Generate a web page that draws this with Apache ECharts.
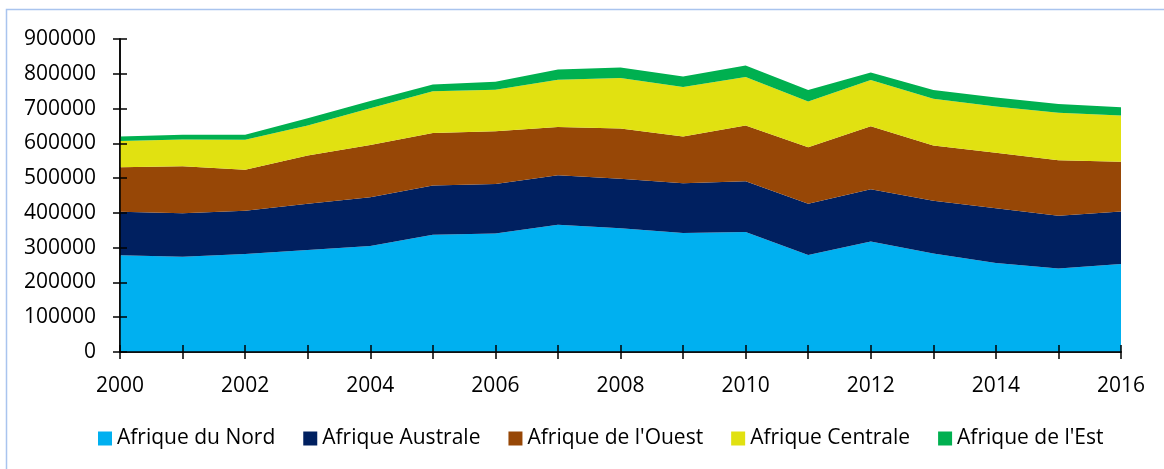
<!DOCTYPE html>
<html>
<head>
<meta charset="utf-8">
<script src="https://cdn.jsdelivr.net/npm/echarts@6/dist/echarts.min.js"></script>
<style>
html,body{margin:0;padding:0;background:#fff;}
#chart{width:1164px;height:469px;}
</style>
</head>
<body>
<div id="chart"></div>
<script>
const years = ['2000','2001','2002','2003','2004','2005','2006','2007','2008','2009','2010','2011','2012','2013','2014','2015','2016'];
const seriesNames = ['Afrique du Nord','Afrique Australe',"Afrique de l'Ouest",'Afrique Centrale',"Afrique de l'Est"];
const nord = [278000, 274000, 282000, 293000, 305000, 337000, 341000, 366000, 356000, 342000, 345000, 279000, 318000, 283000, 256000, 240000, 253000];
const australe = [125000, 125000, 124000, 133000, 140000, 142000, 142000, 142000, 142000, 143000, 146000, 147000, 150000, 152000, 157000, 152000, 151000];
const ouest = [128000, 135000, 118000, 139000, 150000, 151000, 152000, 139000, 145000, 135000, 160000, 163000, 181000, 159000, 160000, 159000, 143000];
const centrale = [76000, 77000, 86000, 86000, 106000, 120000, 119000, 136000, 145000, 142000, 140000, 131000, 133000, 134000, 133000, 137000, 133000];
const est = [13000, 14000, 15000, 21000, 21000, 19000, 23000, 29000, 30000, 30000, 33000, 33000, 22000, 25000, 26000, 25000, 24000];
const colors = ['#00b0f0','#002060','#974706','#e1e111','#00b050'];
const allData = [nord, australe, ouest, centrale, est];

const FONT = '"Open Sans", "Liberation Sans", sans-serif';
const chart = echarts.init(document.getElementById('chart'), null, {renderer:'canvas'});

const axisLineStyle = {color:'#000', width:1.5};
const option = {
  animation:false,
  textStyle:{fontFamily:FONT},
  grid:{left:120, right:43, top:39, bottom:117, containLabel:false},
  graphic:[{
    type:'rect', shape:{x:6.5, y:9.5, width:1300, height:600},
    style:{fill:null, stroke:'#a9c4ee', lineWidth:1.5}, silent:true, z:-1
  }],
  legend:{
    left:93, top:423, itemWidth:14, itemHeight:14, itemGap:28, icon:'rect',
    textStyle:{fontFamily:FONT, fontSize:21, color:'#000'},
    data:seriesNames
  },
  xAxis:[{
    type:'category', data:years, boundaryGap:false,
    axisLine:{lineStyle:axisLineStyle},
    axisTick:{show:true, interval:0, length:7, lineStyle:axisLineStyle},
    axisLabel:{interval:1, color:'#000', fontFamily:FONT, fontSize:21, margin:24},
    splitLine:{show:false}
  },{
    type:'category', data:years, boundaryGap:false, position:'bottom', z:10,
    axisLine:{show:true, lineStyle:axisLineStyle},
    axisTick:{show:true, inside:true, interval:0, length:7, lineStyle:axisLineStyle},
    axisLabel:{show:false}, splitLine:{show:false}
  }],
  yAxis:[{
    type:'value', min:0, max:900000, interval:100000,
    axisLine:{show:true, lineStyle:axisLineStyle},
    axisTick:{show:true, length:7, lineStyle:axisLineStyle},
    axisLabel:{color:'#000', fontFamily:FONT, fontSize:21, margin:24, formatter:v=>String(v)},
    splitLine:{show:false}
  },{
    type:'value', min:0, max:900000, interval:100000, position:'left', z:10,
    axisLine:{show:true, lineStyle:axisLineStyle},
    axisTick:{show:true, inside:true, length:7, lineStyle:axisLineStyle},
    axisLabel:{show:false}, splitLine:{show:false}
  }],
  series: seriesNames.map((n,i)=>({
    name:n, type:'line', stack:'total', data:allData[i],
    xAxisIndex:0, yAxisIndex:0,
    symbol:'none', lineStyle:{width:0}, itemStyle:{color:colors[i]},
    areaStyle:{color:colors[i], opacity:1}
  }))
};
chart.setOption(option);
</script>
</body>
</html>
